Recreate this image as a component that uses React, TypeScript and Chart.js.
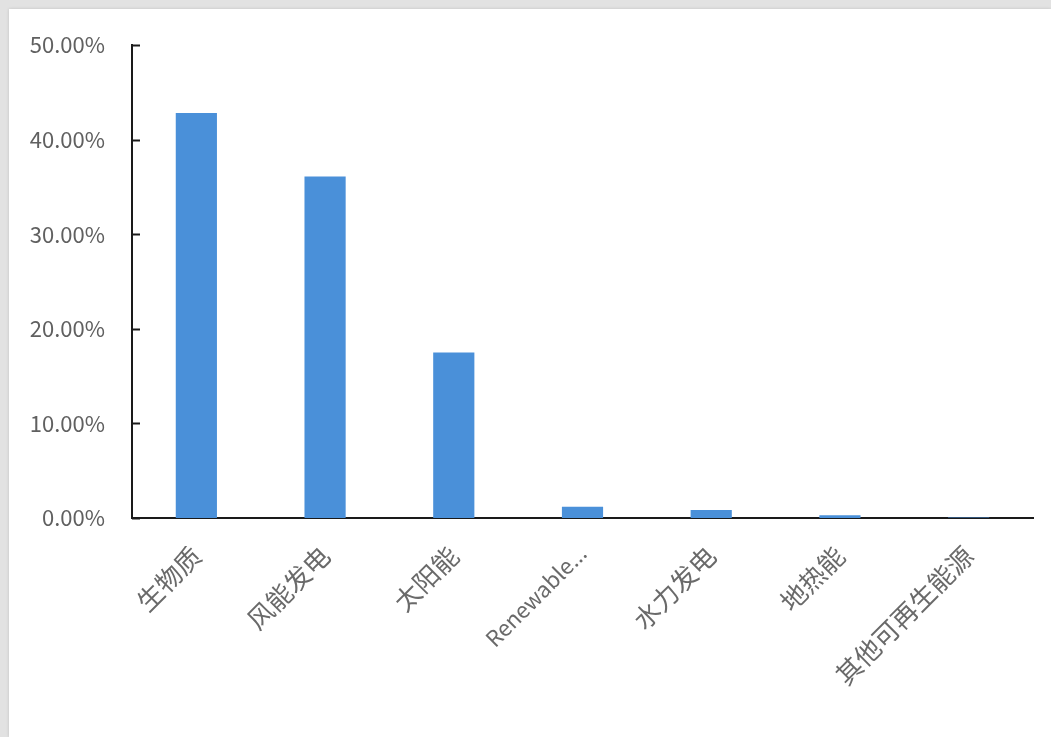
import React, { useEffect, useRef } from "react";
import { Chart, registerables } from "chart.js";

Chart.register(...registerables);

const categories = ["生物质", "风能发电", "太阳能", "Renewable...", "水力发电", "地热能", "其他可再生能源"];
const shares = [42.8, 36.1, 17.5, 1.2, 0.85, 0.3, 0.05];
const yTicks = [0, 10, 20, 30, 40, 50];

const FONT = "'Noto Sans CJK SC', 'Noto Sans', sans-serif";

// Short tick marks on the inner side of the value axis
const innerTicks = {
  id: "innerTicks",
  afterDraw(chart: any) {
    const { ctx, chartArea, scales } = chart;
    const y = scales.y;
    ctx.save();
    ctx.strokeStyle = "#1a1a1a";
    ctx.lineWidth = 2;
    yTicks.forEach((v) => {
      const py = Math.round(y.getPixelForValue(v)) + 0.5;
      ctx.beginPath();
      ctx.moveTo(chartArea.left, py);
      ctx.lineTo(chartArea.left + 8, py);
      ctx.stroke();
    });
    ctx.restore();
  },
};

// CJK category names are set larger than Latin ones
const isLatin = (s: string) => /^[\x00-\x7f]+$/.test(s);

export default function App() {
  const ref = useRef<HTMLCanvasElement>(null);

  useEffect(() => {
    document.body.style.margin = "0";
    const chart = new Chart(ref.current!, {
      type: "bar",
      data: {
        labels: categories,
        datasets: [
          {
            data: shares,
            backgroundColor: "#4A90D9",
            borderWidth: 0,
            categoryPercentage: 1,
            barPercentage: 0.32,
          },
        ],
      },
      options: {
        animation: false,
        responsive: false,
        events: [],
        layout: { padding: { top: 45, right: 18, left: 0, bottom: 0 } },
        plugins: { legend: { display: false }, tooltip: { enabled: false } },
        scales: {
          x: {
            grid: { display: false, drawTicks: false },
            border: { display: true, color: "#1a1a1a", width: 2 },
            ticks: {
              autoSkip: false,
              minRotation: 45,
              maxRotation: 45,
              padding: 22,
              color: "#6a6a6a",
              font: (c: any) => ({
                family: FONT,
                size: isLatin(categories[c.index] || "") ? 22 : 26,
              }),
            },
            afterFit: (s: any) => {
              s.height = 219;
            },
          },
          y: {
            min: 0,
            max: 50,
            grid: { display: false, drawTicks: false },
            border: { display: true, color: "#1a1a1a", width: 2 },
            ticks: {
              stepSize: 10,
              padding: 27,
              color: "#606060",
              font: { family: FONT, size: 22 },
              callback: (v: any) => Number(v).toFixed(2) + "%",
            },
            afterFit: (s: any) => {
              s.width = 132;
            },
          },
        },
      },
      plugins: [innerTicks],
    });
    return () => chart.destroy();
  }, []);

  return (
    <div
      style={{
        position: "relative",
        width: 1051,
        height: 737,
        background: "#e2e2e2",
        overflow: "hidden",
      }}
    >
      <div
        style={{
          position: "absolute",
          left: 9,
          top: 9,
          right: 0,
          bottom: 0,
          background: "#ffffff",
          boxShadow: "0 0 3px rgba(0,0,0,0.15)",
        }}
      />
      <canvas
        ref={ref}
        width={1051}
        height={737}
        style={{ position: "absolute", left: 0, top: 0, width: 1051, height: 737 }}
      />
    </div>
  );
}
